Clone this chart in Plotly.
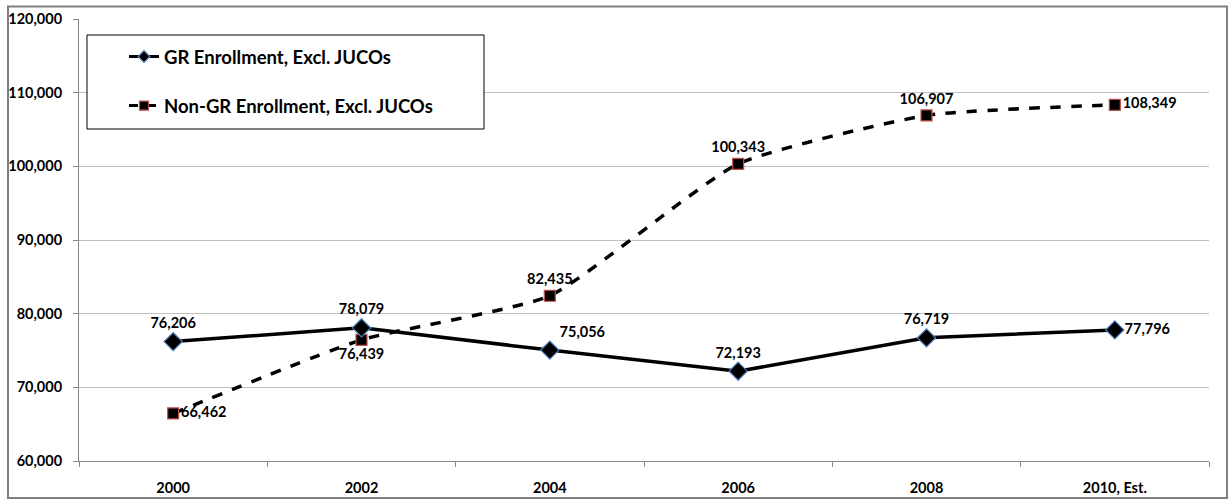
import plotly.graph_objects as go

categories = ["2000", "2002", "2004", "2006", "2008", "2010, Est."]
gr_values = [76206, 78079, 75056, 72193, 76719, 77796]
nongr_values = [66462, 76439, 82435, 100343, 106907, 108349]
gr_name = "GR Enrollment, Excl. JUCOs"
nongr_name = "Non-GR Enrollment, Excl. JUCOs"
y_ticks = [60000, 70000, 80000, 90000, 100000, 110000, 120000]

FONT = "Lato, 'Open Sans', sans-serif"
W, H = 1228, 499
ML, MR, MT, MB = 79, 19, 19, 38
PW, PH = W - ML - MR, H - MT - MB

def px_x(x):
    return (x - ML) / PW

def px_y(y):
    return (H - MB - y) / PH

LABEL_FONT = dict(family=FONT, size=14.5, color="black", weight="bold")
TICK_FONT = dict(family=FONT, size=14.5, color="black", weight="bold")

gr_line = dict(color="black", width=3.5)
nongr_line = dict(color="black", width=3.5, dash="dash", shape="spline", smoothing=0.5)
gr_marker_line = dict(color="#4f81bd", width=1.2)
nongr_marker_line = dict(color="#c0504d", width=1.2)

fig = go.Figure()

fig.add_trace(go.Scatter(
    x=categories, y=nongr_values, name=nongr_name, mode="lines+markers+text",
    line=nongr_line,
    marker=dict(symbol="square", size=11, color="black", line=nongr_marker_line),
    text=[f"{v:,}" for v in nongr_values],
    textposition=["middle right", "bottom center", "top center", "top center", "top center", "middle right"],
    textfont=LABEL_FONT, showlegend=False,
))

fig.add_trace(go.Scatter(
    x=categories, y=gr_values, name=gr_name, mode="lines+markers+text",
    line=gr_line,
    marker=dict(symbol="diamond", size=14, color="black", line=gr_marker_line),
    text=[f"{v:,}" for v in gr_values],
    textposition=["top center", "top center", "top right", "top center", "top center", "middle right"],
    textfont=LABEL_FONT, showlegend=False,
))

# legend-only entries (smaller legend symbols)
fig.add_trace(go.Scatter(
    x=[None], y=[None], name=gr_name, mode="lines+markers",
    line=dict(color="black", width=3),
    marker=dict(symbol="diamond", size=9, color="black", line=gr_marker_line),
    legendgroup="a", legendrank=1,
))
fig.add_trace(go.Scatter(
    x=[None], y=[None], name=nongr_name, mode="lines+markers",
    line=dict(color="black", width=3, dash="dash"),
    marker=dict(symbol="square", size=9, color="black", line=nongr_marker_line),
    legendgroup="b", legendrank=2,
))

fig.update_layout(
    width=W, height=H,
    margin=dict(l=ML, r=MR, t=MT, b=MB, autoexpand=False),
    paper_bgcolor="white", plot_bgcolor="white",
    font=dict(family=FONT, color="black"),
    showlegend=True,
    legend=dict(
        x=px_x(124), y=px_y(38), xanchor="left", yanchor="top",
        borderwidth=0, bgcolor="rgba(0,0,0,0)",
        font=dict(family=FONT, size=18.5, color="black", weight="bold"),
        tracegroupgap=22, itemwidth=30,
    ),
    xaxis=dict(
        type="category", tickson="boundaries", ticks="outside", ticklen=5,
        tickcolor="#868686", showline=True, linecolor="#868686", linewidth=1,
        showgrid=False, tickfont=TICK_FONT, automargin=False,
        ticklabelstandoff=14, range=[-0.5, 5.5],
    ),
    yaxis=dict(
        range=[60000, 120000], tickvals=y_ticks, tickformat=",",
        ticks="outside", ticklen=5, tickcolor="#868686",
        showline=True, linecolor="#868686", linewidth=1,
        showgrid=True, gridcolor="#bfbfbf", gridwidth=1, zeroline=False,
        tickfont=TICK_FONT, ticklabelstandoff=8, automargin=False,
    ),
    shapes=[
        dict(
            type="rect", xref="paper", yref="paper",
            x0=px_x(8), x1=px_x(1227), y0=px_y(498), y1=px_y(6.5),
            line=dict(color="#7f7f7f", width=2), fillcolor="rgba(0,0,0,0)", layer="below",
        ),
        dict(
            type="rect", xref="paper", yref="paper",
            x0=px_x(87), x1=px_x(484), y0=px_y(129), y1=px_y(35),
            line=dict(color="black", width=1), fillcolor="white", layer="above",
        ),
    ],
)

fig.write_html("out.html")
